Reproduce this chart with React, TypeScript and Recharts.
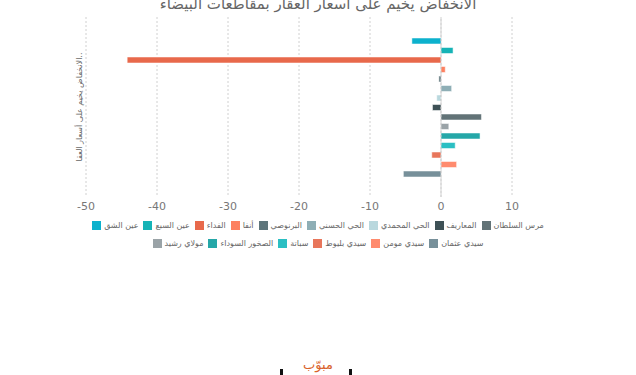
import { BarChart, Bar, XAxis, YAxis, CartesianGrid, ReferenceLine } from "recharts";

const TITLE = "الانخفاض يخيم على أسعار العقار بمقاطعات البيضاء";
const CATEGORY = "الانخفاض يخيم على أسعار العقا..";

const DISTRICTS = [
  "عين الشق",
  "عين السبع",
  "الفداء",
  "أنفا",
  "البرنوصي",
  "الحي الحسني",
  "الحي المحمدي",
  "المعاريف",
  "مرس السلطان",
  "مولاي رشيد",
  "الصخور السوداء",
  "سباتة",
  "سيدي بليوط",
  "سيدي مومن",
  "سيدي عثمان",
];

const CHANGES = [-4.1, 1.7, -44.2, 0.6, -0.3, 1.5, -0.6, -1.2, 5.7, 1.1, 5.5, 2.0, -1.3, 2.2, -5.3];

const COLORS = [
  "#0cb1cd", // cyan
  "#16b3b6",
  "#e8694b",
  "#fd8160",
  "#5e767c",
  "#8eaeb5",
  "#b9d8de",
  "#3e5156",
  "#627377",
  "#9aa3a7",
  "#25a7a8",
  "#2bbfc3",
  "#e8765b",
  "#ff8b6e",
  "#77909a",
];

const X_TICKS = [-50, -40, -30, -20, -10, 0, 10];

const row: Record<string, string | number> = { name: CATEGORY };
DISTRICTS.forEach((_, i) => {
  row["s" + i] = CHANGES[i];
});
const data = [row];

const FONT = "'DejaVu Sans', 'Noto Sans', sans-serif";

function CategoryTick({ y }: any) {
  return (
    <text
      x={79}
      y={y}
      transform={`rotate(-90, 79, ${y})`}
      textAnchor="middle"
      dominantBaseline="middle"
      fontSize={8}
      fill="#666"
      fontFamily={FONT}
    >
      {CATEGORY}
    </text>
  );
}

function LegendRow({ from, to }: { from: number; to: number }) {
  return (
    <div style={{ display: "flex", justifyContent: "center", gap: 5, height: 18, alignItems: "center" }}>
      {DISTRICTS.slice(from, to).map((d, k) => (
        <div key={d} style={{ display: "flex", alignItems: "center", gap: 3 }}>
          <span style={{ width: 9, height: 9, background: COLORS[from + k], display: "inline-block" }} />
          <span style={{ fontSize: 8, color: "#666", fontFamily: FONT, direction: "rtl" }}>{d}</span>
        </div>
      ))}
    </div>
  );
}

export default function App() {
  return (
    <div style={{ position: "absolute", left: 0, top: 0, width: 636, height: 375, background: "#fff", overflow: "hidden" }}>
      <div
        style={{
          position: "absolute",
          top: -5,
          width: 636,
          textAlign: "center",
          fontSize: 15,
          color: "#666",
          fontFamily: FONT,
          direction: "rtl",
        }}
      >
        {TITLE}
      </div>
      <div style={{ position: "absolute", top: 0, left: 0 }}>
        <BarChart
          width={636}
          height={217}
          data={data}
          layout="vertical"
          margin={{ top: 17, right: 124, bottom: 0, left: 0 }}
          barSize={6}
          barGap={3.5}
        >
          <CartesianGrid horizontal={false} stroke="#d0d0d0" strokeDasharray="2 2" />
          <XAxis
            type="number"
            domain={[-50, 10]}
            ticks={X_TICKS}
            axisLine={false}
            tickLine={false}
            tickSize={0}
            tickMargin={5}
            height={20}
            tick={{ fontSize: 11, fill: "#777", fontFamily: FONT }}
          />
          <YAxis type="category" dataKey="name" width={86} axisLine={false} tickLine={false} tick={<CategoryTick />} />
          <ReferenceLine x={0} stroke="#bbb" strokeDasharray="2 2" />
          {DISTRICTS.map((d, i) => (
            <Bar
              key={d}
              dataKey={"s" + i}
              name={d}
              fill={COLORS[i]}
              stroke="#ffffff"
              strokeOpacity={0.5}
              isAnimationActive={false}
            />
          ))}
        </BarChart>
      </div>
      <div style={{ position: "absolute", top: 216, left: 0, width: 636 }}>
        <LegendRow from={0} to={9} />
        <LegendRow from={9} to={15} />
      </div>
      <div
        style={{
          position: "absolute",
          top: 357,
          width: 636,
          textAlign: "center",
          fontSize: 13,
          color: "#d9622b",
          fontFamily: FONT,
        }}
      >
        مبوّب
      </div>
      <div style={{ position: "absolute", top: 369, left: 280, width: 3, height: 6, background: "#111" }} />
      <div style={{ position: "absolute", top: 369, left: 349, width: 3, height: 6, background: "#111" }} />
    </div>
  );
}
